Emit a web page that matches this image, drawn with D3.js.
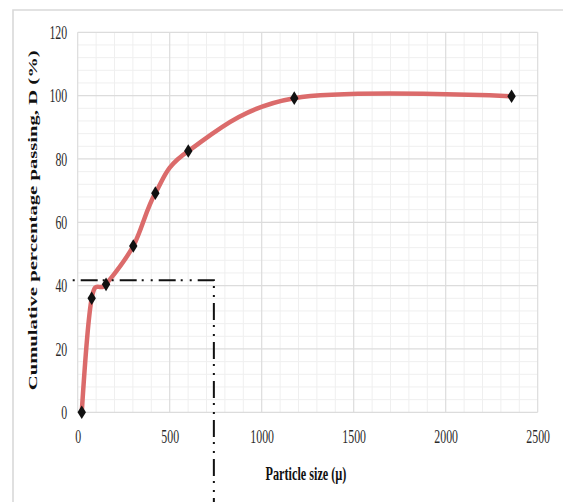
<!DOCTYPE html>
<html>
<head>
<meta charset="utf-8">
<script src="https://cdn.jsdelivr.net/npm/d3@7"></script>
<style>
  html, body { margin: 0; padding: 0; background: #fff; }
  svg { display: block; }
</style>
</head>
<body>
<svg id="chart" width="563" height="502"></svg>
<script>
// Sieve analysis: particle size (µ) vs cumulative percentage passing (%)
const particleSize = [22, 76, 154, 302, 422, 601, 1177, 2358];
const percentPassing = [0, 36.0, 40.4, 52.5, 69.2, 82.5, 99.2, 99.8];

const xTicks = [0, 500, 1000, 1500, 2000, 2500];
const yTicks = [0, 20, 40, 60, 80, 100, 120];

// Reading of the size at ~41.7 % passing
const refSize = 740;
const refPassing = 41.7;

const W = 563, H = 502;
const plot = { left: 77.7, right: 537.7, top: 32.3, bottom: 412.3 };
const squeeze = 0.64; // condensed serif lettering

const svg = d3.select("#chart");

const x = d3.scaleLinear().domain([0, 2500]).range([plot.left, plot.right]);
const y = d3.scaleLinear().domain([0, 120]).range([plot.bottom, plot.top]);

// Outer frame (top and left edges)
svg.append("path")
  .attr("d", `M13,${H} L13,10 L${W},10`)
  .attr("fill", "none")
  .attr("stroke", "#d9d9d9")
  .attr("stroke-width", 1.6);

// Minor gridlines
const grid = svg.append("g");
grid.append("g").selectAll("line")
  .data(d3.range(0, 2501, 100).filter(v => v % 500 !== 0))
  .join("line")
  .attr("x1", d => x(d)).attr("x2", d => x(d))
  .attr("y1", plot.top).attr("y2", plot.bottom)
  .attr("stroke", "#efefef").attr("stroke-width", 1);
grid.append("g").selectAll("line")
  .data(d3.range(0, 121, 4).filter(v => v % 20 !== 0))
  .join("line")
  .attr("x1", plot.left).attr("x2", plot.right)
  .attr("y1", d => y(d)).attr("y2", d => y(d))
  .attr("stroke", "#efefef").attr("stroke-width", 1);

// Major gridlines
grid.append("g").selectAll("line")
  .data(xTicks)
  .join("line")
  .attr("x1", d => x(d)).attr("x2", d => x(d))
  .attr("y1", plot.top).attr("y2", plot.bottom)
  .attr("stroke", "#dcdcdc").attr("stroke-width", 1.2);
grid.append("g").selectAll("line")
  .data(yTicks)
  .join("line")
  .attr("x1", plot.left).attr("x2", plot.right)
  .attr("y1", d => y(d)).attr("y2", d => y(d))
  .attr("stroke", "#dcdcdc").attr("stroke-width", 1.2);

// Axes (labels only; lines come from the grid)
const fontFamily = "'Liberation Serif', 'Times New Roman', serif";

const yAxis = svg.append("g")
  .attr("transform", `translate(${plot.left},0)`)
  .call(d3.axisLeft(y).tickValues(yTicks).tickFormat(d3.format("d")).tickSize(0).tickPadding(0));
yAxis.select(".domain").remove();
yAxis.selectAll("text")
  .attr("font-family", fontFamily)
  .attr("font-size", 18.5)
  .attr("fill", "#2a2a2a")
  .attr("x", -10.5 / squeeze)
  .attr("dy", "0.34em")
  .attr("transform", `scale(${squeeze},1)`);

const xAxis = svg.append("g")
  .attr("transform", `translate(0,${plot.bottom})`)
  .call(d3.axisBottom(x).tickValues(xTicks).tickFormat(d3.format("d")).tickSize(0).tickPadding(0));
xAxis.select(".domain").remove();
xAxis.selectAll("text")
  .attr("font-family", fontFamily)
  .attr("font-size", 18.5)
  .attr("fill", "#2a2a2a")
  .attr("y", 30.5)
  .attr("dy", 0)
  .attr("transform", `scale(${squeeze},1)`);

// Axis titles
svg.append("text")
  .attr("transform", `translate(37,${(plot.top + plot.bottom) / 2 - 2}) scale(0.68,1) rotate(-90)`)
  .attr("text-anchor", "middle")
  .attr("font-family", fontFamily)
  .attr("font-weight", "bold")
  .attr("font-size", 18)
  .attr("fill", "#111")
  .attr("textLength", 340)
  .attr("lengthAdjust", "spacingAndGlyphs")
  .text("Cumulative percentage passing, D (%)");

svg.append("text")
  .attr("transform", `translate(306,480) scale(0.66,1)`)
  .attr("text-anchor", "middle")
  .attr("font-family", fontFamily)
  .attr("font-weight", "bold")
  .attr("font-size", 18.5)
  .attr("fill", "#111")
  .text("Particle size (µ)");

// Smoothed gradation curve
const pts = particleSize.map((s, i) => [s, percentPassing[i]]);
const line = d3.line()
  .x(d => x(d[0]))
  .y(d => y(d[1]))
  .curve(d3.curveCardinal.tension(0));

svg.append("path")
  .datum(pts)
  .attr("d", line)
  .attr("fill", "none")
  .attr("stroke", "#db6b6b")
  .attr("stroke-width", 4.5)
  .attr("stroke-linecap", "round");

// Diamond markers
const dw = 4.2, dh = 6.8;
svg.append("g").selectAll("path")
  .data(pts)
  .join("path")
  .attr("d", d => {
    const cx = x(d[0]), cy = y(d[1]);
    return `M${cx},${cy - dh} L${cx + dw},${cy} L${cx},${cy + dh} L${cx - dw},${cy} Z`;
  })
  .attr("fill", "#111");

// Dash-dot-dot reference line
svg.append("path")
  .attr("d", `M${x(0) - 5},${y(refPassing)} L${x(refSize)},${y(refPassing)} L${x(refSize)},${H}`)
  .attr("fill", "none")
  .attr("stroke", "#111")
  .attr("stroke-width", 2)
  .attr("stroke-dasharray", "17,5,2,7,2,6")
  .attr("stroke-dashoffset", 31);
</script>
</body>
</html>
